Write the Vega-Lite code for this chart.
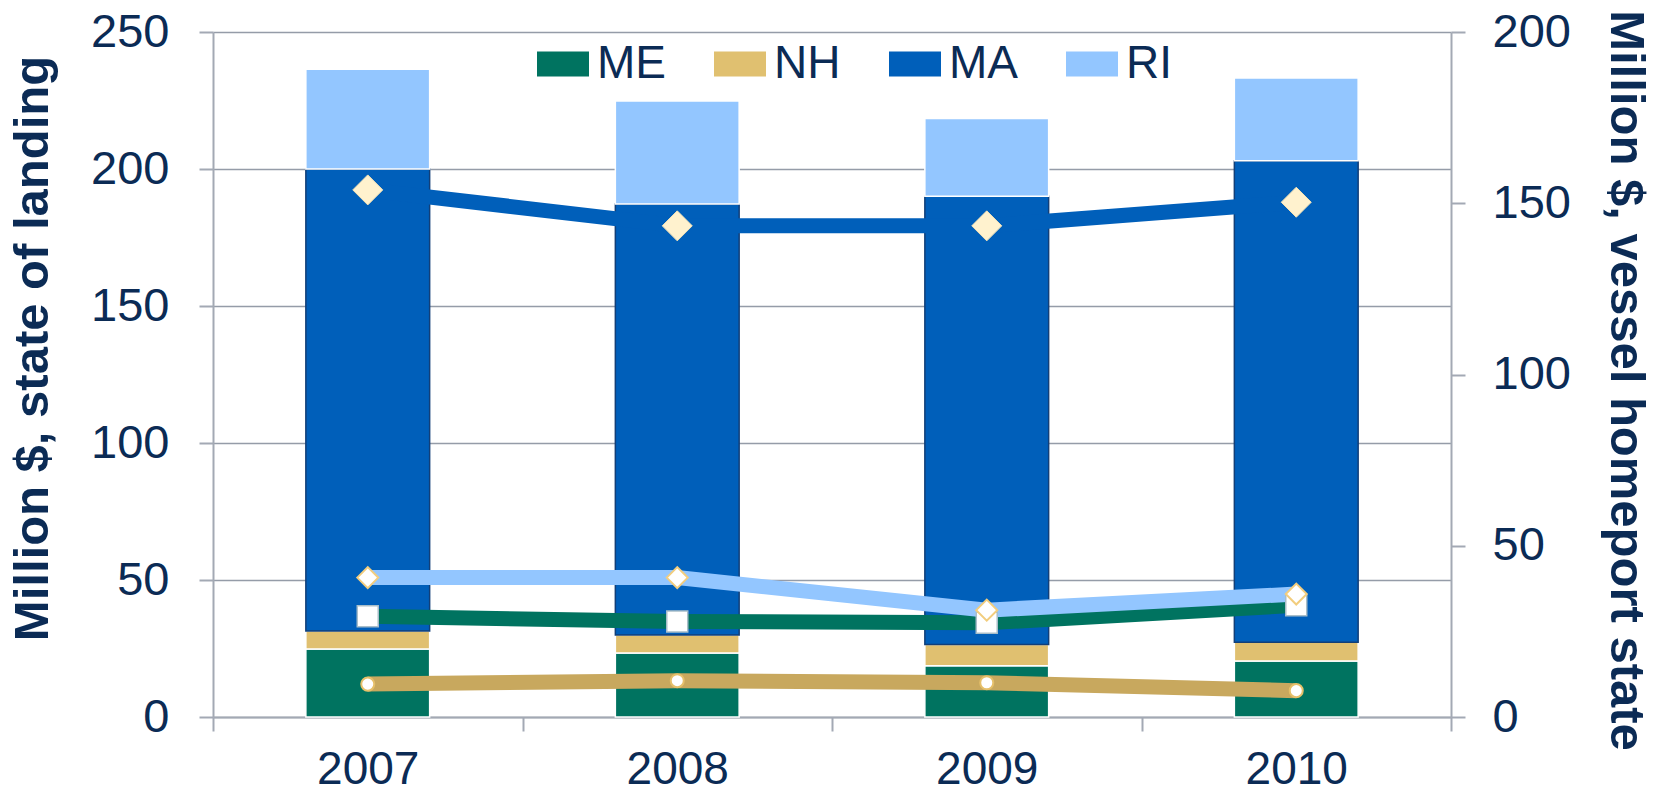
{
  "$schema": "https://vega.github.io/schema/vega-lite/v6.json",
  "width": 1238,
  "height": 685,
  "autosize": {"type": "none"},
  "padding": {"left": 213, "top": 32, "right": 220, "bottom": 78},
  "background": "white",
  "config": {
    "view": {"stroke": null},
    "axis": {
      "labelFont": "Liberation Sans",
      "labelFontSize": 47,
      "labelColor": "#0B2B55",
      "titleFont": "Liberation Sans",
      "titleFontWeight": "bold",
      "titleFontSize": 49,
      "titleColor": "#0B2B55",
      "domainColor": "#A3A9B4",
      "domainWidth": 2,
      "tickColor": "#A3A9B4",
      "tickWidth": 2,
      "tickSize": 14,
      "gridColor": "#959CA8",
      "gridWidth": 1.5
    }
  },
  "datasets": {
    "landing": [
      {"year": "2007", "state": "ME", "value": 24.8},
      {"year": "2007", "state": "NH", "value": 6.6},
      {"year": "2007", "state": "MA", "value": 168.6},
      {"year": "2007", "state": "RI", "value": 36.4},
      {"year": "2008", "state": "ME", "value": 23.4},
      {"year": "2008", "state": "NH", "value": 6.5},
      {"year": "2008", "state": "MA", "value": 157.3},
      {"year": "2008", "state": "RI", "value": 37.6},
      {"year": "2009", "state": "ME", "value": 18.7},
      {"year": "2009", "state": "NH", "value": 7.8},
      {"year": "2009", "state": "MA", "value": 163.6},
      {"year": "2009", "state": "RI", "value": 28.3},
      {"year": "2010", "state": "ME", "value": 20.4},
      {"year": "2010", "state": "NH", "value": 6.9},
      {"year": "2010", "state": "MA", "value": 175.7},
      {"year": "2010", "state": "RI", "value": 30.2}
    ],
    "homeport": [
      {"year": "2007", "state": "NH", "value": 9.6},
      {"year": "2008", "state": "NH", "value": 10.6},
      {"year": "2009", "state": "NH", "value": 10.0},
      {"year": "2010", "state": "NH", "value": 7.7},
      {"year": "2007", "state": "ME", "value": 29.4},
      {"year": "2008", "state": "ME", "value": 27.9},
      {"year": "2009", "state": "ME", "value": 27.5},
      {"year": "2010", "state": "ME", "value": 32.6},
      {"year": "2007", "state": "RI", "value": 40.7},
      {"year": "2008", "state": "RI", "value": 40.7},
      {"year": "2009", "state": "RI", "value": 31.2},
      {"year": "2010", "state": "RI", "value": 35.9},
      {"year": "2007", "state": "MA", "value": 153.9},
      {"year": "2008", "state": "MA", "value": 143.4},
      {"year": "2009", "state": "MA", "value": 143.4},
      {"year": "2010", "state": "MA", "value": 150.3}
    ]
  },
  "layer": [
    {
      "data": {"name": "landing"},
      "transform": [{"calculate": "indexof(['ME','NH','MA','RI'], datum.state)", "as": "k"}],
      "mark": {"type": "bar", "width": {"band": 0.4}, "strokeWidth": 1.5},
      "encoding": {
        "x": {
          "field": "year", "type": "ordinal", "sort": null,
          "scale": {"paddingInner": 0, "paddingOuter": 0},
          "axis": {"title": null, "labelAngle": 0, "tickBand": "extent", "labelPadding": 16, "labelFontSize": 46, "grid": false}
        },
        "y": {
          "field": "value", "type": "quantitative", "stack": "zero",
          "scale": {"domain": [0, 250], "nice": false},
          "axis": {
            "title": "Million $, state of landing",
            "values": [0, 50, 100, 150, 200, 250],
            "grid": true,
            "labelPadding": 30,
            "titleAngle": -90,
            "titleX": -181,
            "titleY": 316,
            "titleAlign": "center",
            "titleBaseline": "middle"
          }
        },
        "color": {
          "field": "state", "type": "nominal",
          "scale": {"domain": ["ME", "NH", "MA", "RI"], "range": ["#007360", "#E0C070", "#005FBA", "#93C6FF"]},
          "legend": {
            "title": null,
            "orient": "none",
            "legendX": 324,
            "legendY": 6,
            "direction": "horizontal",
            "symbolType": "M-1,-0.48H1V0.48H-1Z",
            "symbolSize": 2704,
            "symbolStrokeWidth": 0,
            "symbolOpacity": 1,
            "labelFont": "Liberation Sans",
            "labelFontSize": 46,
            "labelColor": "#0B2B55",
            "labelOffset": 8,
            "columnPadding": 48
          }
        },
        "stroke": {
          "field": "state", "type": "nominal",
          "scale": {"domain": ["ME", "NH", "MA", "RI"], "range": ["#ffffff", "#ffffff", "#123F78", "#ffffff"]},
          "legend": null
        },
        "order": {"field": "k", "type": "quantitative"}
      }
    },
    {
      "data": {"name": "homeport"},
      "encoding": {
        "x": {
          "field": "year", "type": "ordinal", "sort": null,
          "axis": {"title": null, "labelAngle": 0, "tickBand": "extent", "labelPadding": 16, "labelFontSize": 46, "grid": false}
        },
        "y": {
          "field": "value", "type": "quantitative",
          "scale": {"domain": [0, 200], "nice": false},
          "axis": {
            "orient": "right",
            "title": "Million $, vessel homeport state",
            "values": [0, 50, 100, 150, 200],
            "grid": false,
            "labelPadding": 27,
            "titleAngle": 90,
            "titleX": 174,
            "titleY": 348,
            "titleAlign": "center",
            "titleBaseline": "middle"
          }
        }
      },
      "layer": [
        {
          "mark": {"type": "line", "strokeWidth": 15},
          "encoding": {
            "color": {
              "field": "state", "type": "nominal",
              "scale": {"domain": ["ME", "NH", "MA", "RI"], "range": ["#007360", "#C8A85E", "#005FBA", "#93C6FF"]},
              "legend": null
            }
          }
        },
        {
          "transform": [{"filter": "datum.state == 'NH'"}],
          "mark": {"type": "point", "shape": "circle", "filled": true, "fill": "#ffffff", "stroke": "#E6C06A", "strokeWidth": 2, "size": 170, "opacity": 1}
        },
        {
          "transform": [{"filter": "datum.state == 'ME'"}],
          "mark": {"type": "point", "shape": "square", "filled": true, "fill": "#ffffff", "stroke": "#A9BEC9", "strokeWidth": 1.5, "size": 440, "opacity": 1}
        },
        {
          "transform": [{"filter": "datum.state == 'RI'"}],
          "mark": {"type": "point", "shape": "diamond", "filled": true, "fill": "#ffffff", "stroke": "#F2CD7E", "strokeWidth": 2, "size": 440, "opacity": 1}
        },
        {
          "transform": [{"filter": "datum.state == 'MA'"}],
          "mark": {"type": "point", "shape": "diamond", "filled": true, "fill": "#FFF2CE", "stroke": "#F5E3B5", "strokeWidth": 1, "size": 900, "opacity": 1}
        }
      ]
    }
  ],
  "resolve": {"scale": {"y": "independent", "color": "independent", "stroke": "independent"}}
}
